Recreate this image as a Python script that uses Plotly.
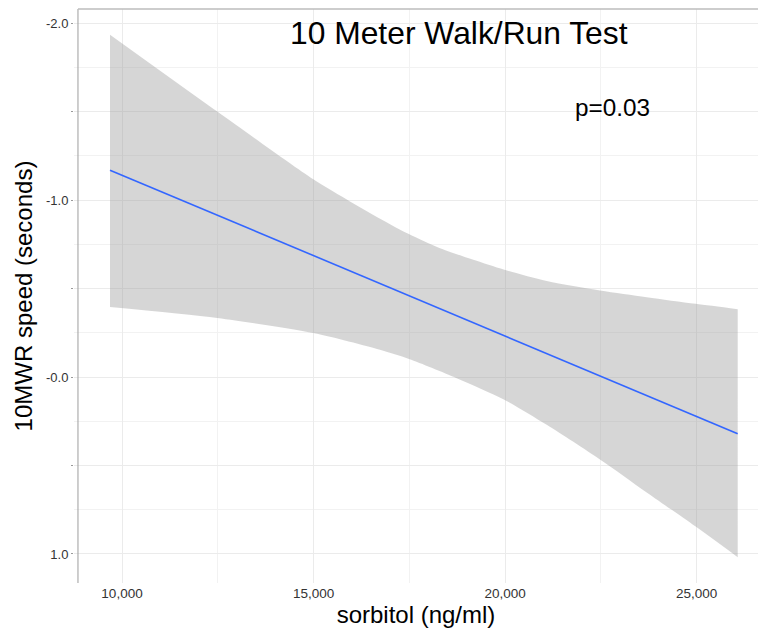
import plotly.graph_objects as go

# Fitted linear trend (sorbitol vs 10MWR speed)
fit_x = [9687, 26071]
fit_y = [-1.170, 0.320]

# Confidence band: upper (more negative) edge
band_upper_x = [9687, 12488, 14993, 15951, 16560, 17473, 18301, 19170, 19979, 21086, 22477, 23696, 24975, 26071]
band_upper_y = [-1.936, -1.501, -1.118, -0.993, -0.917, -0.810, -0.729, -0.663, -0.607, -0.543, -0.490, -0.452, -0.414, -0.384]

# Confidence band: lower (more positive) edge
band_lower_x = [9687, 12488, 14993, 16734, 17491, 18736, 19979, 21086, 22485, 23696, 24975, 26071]
band_lower_y = [-0.396, -0.334, -0.249, -0.154, -0.102, 0.006, 0.128, 0.270, 0.467, 0.652, 0.845, 1.018]

x_tickvals = [10000, 15000, 20000, 25000]
x_ticktext = ["10,000", "15,000", "20,000", "25,000"]
y_tickvals = [-2.0, -1.5, -1.0, -0.5, 0.0, 0.5, 1.0]
y_ticktext = ["-2.0", "", "-1.0", "", "-0.0", "", "1.0"]

W, H = 758, 631
L, R, T, B = 74, 0, 9, 48
FONT = "Liberation Sans, Arial, sans-serif"


def px_to_paper(px, py):
    return (px - L) / (W - L - R), (H - B - py) / (H - T - B)


fig = go.Figure()

# ribbon: lower edge first, then upper edge filled back to it
fig.add_trace(go.Scatter(
    x=band_lower_x, y=band_lower_y, mode="lines",
    line=dict(width=0, shape="spline", smoothing=0.8),
    hoverinfo="skip", showlegend=False,
))
fig.add_trace(go.Scatter(
    x=band_upper_x, y=band_upper_y, mode="lines", fill="tonexty",
    fillcolor="rgba(153,153,153,0.4)",
    line=dict(width=0, shape="spline", smoothing=0.8),
    hoverinfo="skip", showlegend=False,
))

fig.add_trace(go.Scatter(
    x=fit_x, y=fit_y, mode="lines",
    line=dict(color="#3366FF", width=1.6),
    showlegend=False,
))

x_range = [8747, 26601]
y_range = [1.164, -2.081]
axis_x = 8851  # position of the left axis line

fig.update_layout(
    width=W, height=H,
    margin=dict(l=L, r=R, t=T, b=B, pad=0),
    paper_bgcolor="white", plot_bgcolor="white",
    font=dict(family=FONT, color="#333333"),
    showlegend=False,
    xaxis=dict(
        range=x_range, tickvals=x_tickvals, ticktext=x_ticktext,
        showgrid=True, gridcolor="#EBEBEB", gridwidth=1,
        minor=dict(tick0=0, dtick=2500, showgrid=True, gridcolor="#F2F2F2", gridwidth=1),
        zeroline=False, showline=False, ticks="",
        tickfont=dict(size=13.5, color="#333333"),
        title=dict(text="sorbitol (ng/ml)", font=dict(size=24, color="black"), standoff=6),
    ),
    yaxis=dict(
        range=y_range, tickvals=y_tickvals, ticktext=y_ticktext,
        showgrid=True, gridcolor="#EBEBEB", gridwidth=1,
        minor=dict(tick0=0, dtick=0.25, showgrid=True, gridcolor="#F2F2F2", gridwidth=1),
        zeroline=False, showline=False,
        ticks="outside", ticklen=2, tickcolor="#999999", tickwidth=1,
        tickfont=dict(size=13, color="#333333"),
        title=dict(text="10MWR speed (seconds)", font=dict(size=24, color="black"), standoff=6),
    ),
)

# left axis line and top border line
fig.add_shape(type="line", xref="x", yref="paper", x0=axis_x, x1=axis_x, y0=0, y1=1,
              line=dict(color="#9E9E9E", width=1))
fig.add_shape(type="line", xref="x", yref="paper", x0=axis_x, x1=x_range[1], y0=1, y1=1,
              line=dict(color="#BDBDBD", width=1.5))

tx, ty = px_to_paper(458.7, 33)
fig.add_annotation(text="10 Meter Walk/Run Test", xref="paper", yref="paper",
                   x=tx, y=ty, xanchor="center", yanchor="middle", showarrow=False,
                   font=dict(size=31.8, color="black", family=FONT))
px_, py_ = px_to_paper(612.7, 107)
fig.add_annotation(text="p=0.03", xref="paper", yref="paper",
                   x=px_, y=py_, xanchor="center", yanchor="middle", showarrow=False,
                   font=dict(size=24.3, color="black", family=FONT))

fig.write_html("out.html")
